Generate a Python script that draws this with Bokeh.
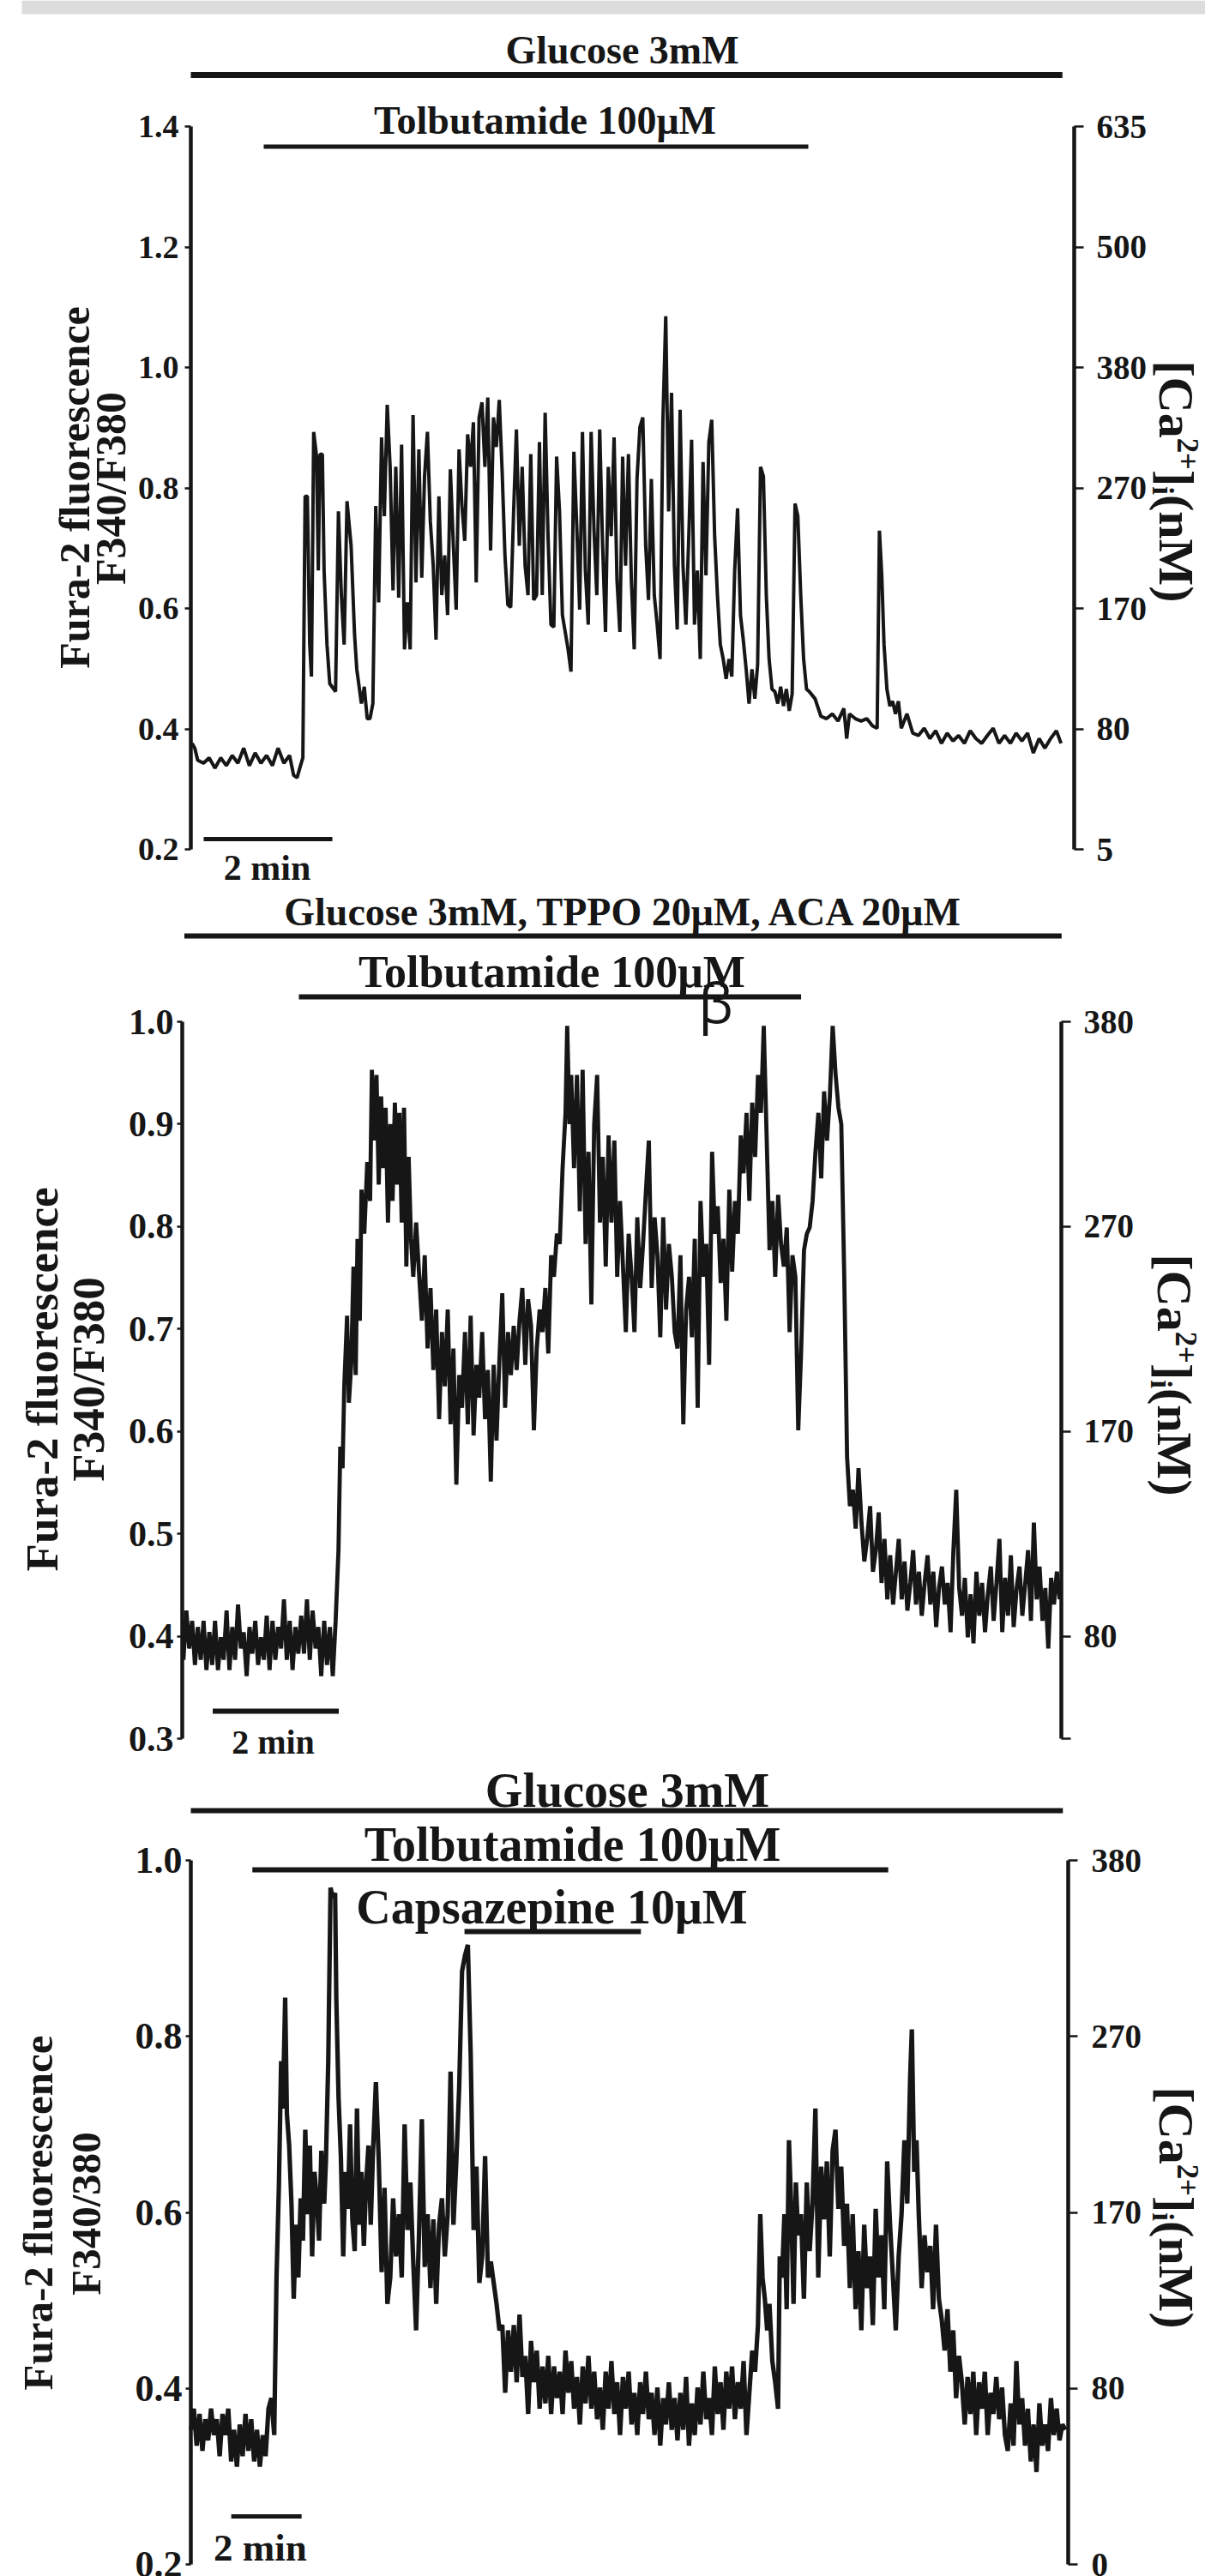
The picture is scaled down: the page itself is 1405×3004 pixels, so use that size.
import math
from bokeh.plotting import figure
from bokeh.models import (Range1d, LinearAxis, FixedTicker, PrintfTickFormatter,
                          Label, ColumnDataSource)
from bokeh.layouts import column
from bokeh.embed import file_html
from bokeh.resources import INLINE

# ------------------------------------------------------------------ data
# Panel 1 : Glucose 3mM, Tolbutamide 100uM  (time in s, Fura-2 F340/F380 ratio)
time_s_1 = [
    1.1, 3.7, 6.4, 11.8, 17.1, 22.5, 27.9, 33.2, 38.6, 43.9,
    49.3, 54.6, 60.0, 65.4, 70.7, 76.1, 81.4, 86.8, 92.1, 95.9,
    99.1, 102.3, 104.5, 106.6, 108.7, 110.9, 112.5, 114.6, 117.3, 118.9,
    120.5, 122.7, 124.3, 127.0, 129.6, 135.0, 137.7, 140.4, 143.0, 145.7,
    149.5, 152.7, 154.8, 159.1, 161.8, 164.5, 167.1, 169.8, 172.5, 175.2,
    177.9, 180.5, 183.2, 185.9, 188.6, 191.2, 193.9, 196.6, 199.3, 202.0,
    204.6, 207.3, 210.0, 212.7, 215.4, 218.0, 220.7, 223.4, 226.1, 228.7,
    231.4, 234.1, 236.8, 239.5, 242.1, 244.8, 247.5, 250.2, 252.9, 255.5,
    258.2, 260.9, 263.6, 266.2, 268.9, 271.6, 274.3, 277.0, 279.6, 282.3,
    285.0, 287.7, 290.4, 293.0, 295.7, 298.4, 301.1, 303.7, 306.4, 309.1,
    311.8, 314.5, 317.1, 319.8, 322.5, 325.2, 327.8, 330.5, 333.2, 335.9,
    338.6, 341.2, 343.9, 346.6, 351.9, 354.6, 357.3, 360.0, 362.7, 365.3,
    368.0, 370.7, 373.4, 376.1, 378.7, 381.4, 384.1, 386.8, 389.4, 392.1,
    394.8, 397.5, 400.2, 402.8, 405.5, 408.2, 410.9, 413.6, 416.2, 418.9,
    421.6, 424.3, 426.9, 429.6, 432.3, 435.0, 437.7, 440.3, 443.0, 445.7,
    448.4, 451.1, 453.7, 456.4, 459.1, 461.8, 464.5, 467.1, 469.8, 472.5,
    475.2, 477.8, 480.5, 483.2, 485.9, 488.6, 491.2, 493.9, 496.6, 499.3,
    502.0, 504.6, 507.3, 510.0, 512.7, 515.3, 518.0, 520.7, 523.4, 526.1,
    528.7, 531.4, 534.1, 536.8, 539.4, 542.1, 544.8, 547.5, 550.2, 552.8,
    555.5, 558.2, 560.9, 563.6, 566.2, 568.9, 571.6, 574.3, 576.9, 582.3,
    587.7, 593.0, 598.4, 603.7, 609.1, 611.8, 614.4, 619.8, 625.2, 630.5,
    635.9, 640.2, 642.3, 644.5, 646.6, 649.3, 652.0, 654.6, 657.3, 660.0,
    662.7, 668.0, 673.4, 678.7, 684.1, 689.4, 694.8, 700.2, 705.5, 710.9,
    716.2, 721.6, 727.0, 732.3, 737.7, 743.0, 748.4, 753.8, 759.1, 764.5,
    769.8, 775.2, 780.5, 785.9, 791.3, 796.6, 802.0, 807.4, 811.7]
ratio_1 = [
    0.376, 0.368, 0.348, 0.343, 0.352, 0.335, 0.352, 0.339, 0.356, 0.343,
    0.368, 0.339, 0.360, 0.343, 0.356, 0.339, 0.368, 0.343, 0.356, 0.323,
    0.319, 0.339, 0.352, 0.786, 0.786, 0.540, 0.487, 0.893, 0.852, 0.663,
    0.856, 0.856, 0.663, 0.540, 0.475, 0.462, 0.761, 0.622, 0.540, 0.778,
    0.704, 0.557, 0.499, 0.442, 0.470, 0.417, 0.417, 0.442, 0.770, 0.610,
    0.884, 0.753, 0.938, 0.835, 0.630, 0.835, 0.618, 0.872, 0.532, 0.610,
    0.532, 0.921, 0.643, 0.864, 0.651, 0.819, 0.893, 0.745, 0.671, 0.548,
    0.786, 0.622, 0.688, 0.589, 0.831, 0.708, 0.598, 0.864, 0.770, 0.712,
    0.889, 0.835, 0.909, 0.643, 0.917, 0.942, 0.835, 0.950, 0.696, 0.917,
    0.868, 0.946, 0.827, 0.688, 0.606, 0.602, 0.761, 0.897, 0.704, 0.835,
    0.671, 0.622, 0.856, 0.614, 0.622, 0.876, 0.622, 0.925, 0.720, 0.573,
    0.569, 0.852, 0.761, 0.589, 0.532, 0.495, 0.860, 0.737, 0.598, 0.893,
    0.663, 0.573, 0.893, 0.729, 0.622, 0.897, 0.704, 0.561, 0.835, 0.720,
    0.884, 0.647, 0.561, 0.852, 0.671, 0.856, 0.647, 0.532, 0.815, 0.901,
    0.917, 0.704, 0.614, 0.815, 0.622, 0.573, 0.516, 0.909, 1.085, 0.761,
    0.958, 0.671, 0.565, 0.930, 0.671, 0.573, 0.720, 0.880, 0.573, 0.663,
    0.516, 0.843, 0.655, 0.876, 0.913, 0.720, 0.622, 0.540, 0.516, 0.483,
    0.516, 0.487, 0.663, 0.766, 0.589, 0.548, 0.499, 0.442, 0.499, 0.450,
    0.507, 0.835, 0.819, 0.622, 0.516, 0.466, 0.462, 0.442, 0.470, 0.438,
    0.466, 0.430, 0.458, 0.774, 0.753, 0.622, 0.516, 0.466, 0.462, 0.450,
    0.421, 0.417, 0.425, 0.413, 0.434, 0.384, 0.425, 0.417, 0.413, 0.417,
    0.405, 0.401, 0.729, 0.655, 0.540, 0.466, 0.438, 0.446, 0.425, 0.446,
    0.401, 0.425, 0.393, 0.389, 0.401, 0.384, 0.397, 0.376, 0.393, 0.380,
    0.389, 0.376, 0.397, 0.384, 0.376, 0.389, 0.401, 0.376, 0.389, 0.376,
    0.393, 0.380, 0.393, 0.360, 0.384, 0.368, 0.384, 0.397, 0.376]

# Panel 2 : Glucose 3mM + TPPO 20uM + ACA 20uM, Tolbutamide 100uM
time_s_2 = [
    1.1, 3.9, 6.6, 9.4, 12.1, 14.8, 17.6, 20.3, 23.0, 25.8,
    28.5, 31.2, 34.0, 36.7, 39.4, 42.2, 44.9, 47.6, 50.3, 53.1,
    55.8, 58.5, 61.3, 64.0, 66.7, 69.5, 72.2, 74.9, 77.7, 80.4,
    83.1, 85.9, 88.6, 91.3, 94.1, 96.8, 99.5, 102.3, 105.0, 107.7,
    110.5, 113.2, 115.9, 118.7, 121.4, 124.1, 126.9, 129.6, 132.3, 135.1,
    137.8, 140.5, 143.3, 146.0, 148.7, 150.4, 152.6, 154.2, 156.9, 158.6,
    160.8, 163.0, 165.1, 166.8, 169.0, 170.6, 173.3, 176.1, 178.8, 180.5,
    182.7, 184.9, 187.0, 189.3, 191.4, 193.6, 195.8, 198.0, 200.2, 202.4,
    204.6, 206.7, 208.9, 211.1, 213.3, 215.5, 217.7, 219.9, 222.6, 225.3,
    228.1, 230.8, 233.5, 236.3, 239.0, 241.7, 244.5, 247.2, 249.9, 252.7,
    255.4, 258.1, 260.9, 263.6, 266.3, 269.1, 271.8, 274.5, 277.3, 280.0,
    282.7, 285.5, 288.2, 290.9, 293.7, 296.4, 299.1, 301.9, 304.6, 307.3,
    310.1, 312.8, 315.5, 318.3, 321.0, 323.7, 326.5, 329.2, 332.0, 334.7,
    337.4, 340.2, 342.9, 345.6, 348.4, 351.1, 353.8, 356.6, 359.3, 362.0,
    364.8, 366.4, 368.6, 370.2, 372.9, 375.7, 378.4, 381.1, 383.9, 386.7,
    389.4, 392.1, 394.9, 397.6, 400.3, 403.1, 405.8, 408.5, 411.3, 414.0,
    416.7, 419.5, 422.2, 424.9, 427.7, 430.4, 433.1, 435.9, 438.6, 441.4,
    444.1, 446.8, 449.6, 452.3, 455.0, 457.8, 460.5, 463.2, 466.0, 468.7,
    471.4, 474.2, 476.9, 479.6, 482.4, 485.1, 487.8, 490.6, 493.3, 496.1,
    498.8, 501.5, 504.3, 507.0, 509.7, 512.5, 515.2, 517.9, 520.7, 523.4,
    526.1, 528.9, 531.6, 534.3, 537.1, 539.8, 542.5, 545.3, 548.0, 550.8,
    553.5, 556.2, 559.0, 561.7, 564.4, 567.2, 569.9, 572.6, 575.4, 578.1,
    580.8, 583.6, 586.3, 589.0, 591.8, 594.5, 597.2, 600.0, 602.7, 605.5,
    608.2, 610.9, 613.7, 616.4, 619.1, 621.9, 624.6, 627.3, 630.1, 632.8,
    635.5, 638.3, 641.0, 643.7, 646.5, 649.2, 651.9, 654.7, 657.4, 660.2,
    662.9, 665.6, 668.4, 671.1, 673.8, 676.6, 679.3, 682.0, 684.8, 687.5,
    690.2, 693.0, 695.7, 698.4, 701.2, 703.9, 706.6, 709.4, 712.1, 714.9,
    717.6, 720.3, 723.1, 725.8, 728.5, 731.3, 734.0, 736.7, 739.5, 742.2,
    744.9, 747.7, 750.4, 753.1, 755.9, 758.6, 761.3, 764.1, 766.8, 769.6,
    772.3, 775.0, 777.8, 780.5, 783.2, 786.0, 788.7, 791.4, 794.2, 796.9,
    799.6, 802.4, 805.1, 807.8, 810.6, 813.3, 816.0, 818.8, 821.5, 824.3,
    827.0, 829.7, 832.5, 835.2]
ratio_2 = [
    0.377, 0.425, 0.388, 0.415, 0.372, 0.409, 0.377, 0.415, 0.367, 0.404,
    0.372, 0.415, 0.367, 0.399, 0.377, 0.425, 0.367, 0.409, 0.377, 0.431,
    0.388, 0.404, 0.361, 0.409, 0.383, 0.415, 0.372, 0.399, 0.377, 0.420,
    0.367, 0.415, 0.377, 0.409, 0.388, 0.436, 0.377, 0.415, 0.367, 0.409,
    0.383, 0.420, 0.383, 0.436, 0.377, 0.425, 0.388, 0.409, 0.361, 0.415,
    0.372, 0.409, 0.361, 0.415, 0.484, 0.585, 0.564, 0.644, 0.713, 0.628,
    0.665, 0.761, 0.655, 0.788, 0.708, 0.836, 0.793, 0.863, 0.825, 0.953,
    0.884, 0.948, 0.841, 0.927, 0.857, 0.916, 0.804, 0.900, 0.825, 0.921,
    0.841, 0.911, 0.804, 0.916, 0.761, 0.868, 0.788, 0.751, 0.804, 0.756,
    0.708, 0.772, 0.681, 0.740, 0.660, 0.719, 0.612, 0.697, 0.644, 0.719,
    0.607, 0.681, 0.548, 0.655, 0.623, 0.697, 0.607, 0.713, 0.596, 0.665,
    0.633, 0.697, 0.612, 0.660, 0.551, 0.665, 0.591, 0.671, 0.735, 0.623,
    0.697, 0.655, 0.703, 0.660, 0.708, 0.740, 0.665, 0.729, 0.703, 0.601,
    0.681, 0.719, 0.697, 0.740, 0.676, 0.772, 0.751, 0.793, 0.783, 0.857,
    0.911, 0.996, 0.900, 0.948, 0.857, 0.948, 0.815, 0.953, 0.783, 0.873,
    0.724, 0.900, 0.948, 0.804, 0.868, 0.761, 0.889, 0.804, 0.884, 0.751,
    0.825, 0.761, 0.697, 0.793, 0.751, 0.697, 0.809, 0.740, 0.783, 0.836,
    0.884, 0.740, 0.809, 0.772, 0.692, 0.809, 0.719, 0.783, 0.751, 0.697,
    0.681, 0.772, 0.607, 0.719, 0.751, 0.692, 0.788, 0.623, 0.825, 0.751,
    0.783, 0.665, 0.873, 0.793, 0.820, 0.745, 0.788, 0.708, 0.836, 0.756,
    0.825, 0.793, 0.889, 0.852, 0.911, 0.825, 0.921, 0.868, 0.948, 0.911,
    0.996, 0.889, 0.777, 0.825, 0.751, 0.831, 0.783, 0.761, 0.799, 0.697,
    0.772, 0.751, 0.601, 0.676, 0.777, 0.793, 0.799, 0.825, 0.873, 0.911,
    0.847, 0.932, 0.884, 0.927, 0.996, 0.948, 0.916, 0.900, 0.751, 0.575,
    0.527, 0.543, 0.505, 0.564, 0.511, 0.473, 0.495, 0.527, 0.463, 0.484,
    0.521, 0.452, 0.495, 0.436, 0.479, 0.431, 0.463, 0.495, 0.436, 0.473,
    0.425, 0.452, 0.484, 0.431, 0.463, 0.420, 0.452, 0.479, 0.431, 0.463,
    0.409, 0.447, 0.468, 0.431, 0.452, 0.404, 0.484, 0.543, 0.447, 0.420,
    0.457, 0.399, 0.441, 0.393, 0.463, 0.420, 0.452, 0.404, 0.441, 0.468,
    0.415, 0.452, 0.495, 0.404, 0.457, 0.420, 0.479, 0.409, 0.447, 0.468,
    0.420, 0.452, 0.484, 0.415, 0.511, 0.436, 0.468, 0.415, 0.447, 0.388,
    0.457, 0.431, 0.463, 0.436]

# Panel 3 : Glucose 3mM, Tolbutamide 100uM, Capsazepine 10uM
time_s_3 = [
    0.2, 5.1, 10.0, 14.9, 19.8, 24.7, 29.6, 34.5, 39.4, 44.3,
    49.2, 54.1, 59.0, 63.9, 68.8, 73.7, 78.6, 83.5, 88.4, 93.3,
    98.2, 103.1, 108.0, 112.9, 117.8, 122.7, 127.6, 132.5, 137.4, 142.3,
    146.2, 150.2, 154.1, 157.0, 161.0, 163.9, 167.8, 171.7, 175.6, 179.6,
    183.5, 187.4, 191.3, 195.3, 199.2, 203.1, 207.0, 211.0, 214.9, 218.8,
    222.7, 227.6, 230.5, 234.5, 238.4, 242.3, 246.2, 248.2, 252.1, 256.0,
    260.0, 263.9, 267.8, 271.7, 275.6, 279.6, 283.5, 287.4, 291.3, 295.2,
    299.2, 303.1, 307.0, 310.9, 315.8, 320.7, 325.6, 330.5, 335.4, 340.3,
    345.2, 350.1, 355.0, 359.9, 364.8, 369.7, 374.6, 379.5, 384.4, 389.3,
    394.2, 399.1, 404.0, 408.9, 413.8, 418.7, 423.6, 428.5, 433.4, 438.3,
    443.2, 448.1, 453.0, 457.9, 462.8, 467.8, 472.7, 477.6, 482.5, 487.4,
    492.3, 497.2, 502.1, 507.0, 511.9, 516.8, 521.7, 526.6, 531.5, 536.4,
    541.3, 546.2, 551.1, 556.0, 560.9, 565.8, 570.7, 575.6, 580.5, 585.4,
    590.3, 595.2, 600.1, 605.0, 609.9, 614.8, 619.7, 624.6, 629.5, 634.4,
    639.3, 644.2, 649.1, 654.0, 658.9, 663.8, 668.7, 673.6, 678.5, 683.4,
    688.3, 693.2, 698.1, 703.0, 707.9, 712.8, 717.7, 722.6, 727.5, 732.4,
    737.3, 742.2, 747.1, 752.0, 756.9, 761.8, 766.7, 771.6, 776.5, 781.4,
    786.3, 791.2, 796.1, 801.0, 805.9, 810.8, 815.7, 820.6, 825.5, 830.4,
    835.3, 840.2, 845.1, 850.0, 854.9, 859.8, 864.7, 869.6, 874.5, 879.4,
    884.3, 889.2, 894.1, 899.0, 903.9, 908.8, 913.7, 918.6, 923.5, 928.4,
    933.4, 938.3, 943.2, 948.1, 953.0, 957.9, 962.8, 967.7, 971.6, 975.5,
    979.4, 983.4, 987.3, 992.2, 997.1, 1002.0, 1004.9, 1008.8, 1012.8, 1016.7,
    1020.6, 1024.5, 1028.4, 1032.4, 1036.3, 1041.2, 1046.1, 1051.0, 1055.9, 1060.8,
    1065.7, 1070.6, 1075.5, 1080.4, 1085.3, 1090.2, 1095.1, 1100.0, 1104.9, 1109.8,
    1114.7, 1119.6, 1124.5, 1129.4, 1134.3, 1139.2, 1144.1, 1149.0, 1153.9, 1158.8,
    1163.7, 1168.6, 1173.5, 1178.4, 1183.3, 1188.2, 1193.1, 1198.0, 1202.9, 1207.8,
    1212.7, 1217.6, 1222.5, 1227.4, 1230.3, 1234.3, 1238.2, 1242.1, 1247.0, 1251.9,
    1256.8, 1261.7, 1266.6, 1271.5, 1276.4, 1281.3, 1286.2, 1291.1, 1296.0, 1300.9,
    1305.8, 1310.7, 1315.6, 1320.5, 1325.4, 1330.3, 1335.2, 1340.1, 1345.0, 1349.9,
    1354.8, 1359.7, 1364.6, 1369.5, 1374.4, 1379.3, 1384.2, 1389.1, 1394.0, 1398.9,
    1403.8, 1408.7, 1413.6, 1418.5, 1423.4, 1428.3, 1433.2, 1438.1, 1443.0, 1447.9,
    1452.8, 1457.8, 1462.7, 1467.6, 1472.5, 1477.4, 1482.3, 1487.2, 1492.1]
ratio_3 = [
    0.353, 0.377, 0.335, 0.371, 0.329, 0.365, 0.341, 0.377, 0.347, 0.365,
    0.323, 0.371, 0.347, 0.377, 0.317, 0.353, 0.311, 0.359, 0.323, 0.371,
    0.329, 0.365, 0.317, 0.353, 0.311, 0.347, 0.323, 0.377, 0.389, 0.347,
    0.526, 0.628, 0.772, 0.718, 0.844, 0.712, 0.676, 0.610, 0.502, 0.586,
    0.526, 0.616, 0.568, 0.694, 0.598, 0.676, 0.550, 0.646, 0.616, 0.568,
    0.670, 0.610, 0.658, 0.772, 0.969, 0.957, 0.963, 0.844, 0.730, 0.664,
    0.550, 0.646, 0.604, 0.700, 0.592, 0.556, 0.718, 0.586, 0.646, 0.562,
    0.634, 0.676, 0.586, 0.670, 0.748, 0.658, 0.532, 0.628, 0.496, 0.526,
    0.616, 0.550, 0.598, 0.526, 0.700, 0.580, 0.634, 0.544, 0.466, 0.574,
    0.706, 0.538, 0.598, 0.514, 0.592, 0.496, 0.586, 0.616, 0.550, 0.598,
    0.760, 0.586, 0.658, 0.742, 0.874, 0.892, 0.904, 0.778, 0.580, 0.652,
    0.520, 0.550, 0.664, 0.526, 0.544, 0.520, 0.496, 0.466, 0.472, 0.395,
    0.466, 0.419, 0.472, 0.407, 0.484, 0.413, 0.437, 0.371, 0.454, 0.407,
    0.443, 0.377, 0.425, 0.383, 0.437, 0.371, 0.425, 0.389, 0.419, 0.371,
    0.443, 0.395, 0.431, 0.377, 0.413, 0.359, 0.425, 0.383, 0.437, 0.377,
    0.419, 0.365, 0.401, 0.353, 0.419, 0.377, 0.431, 0.371, 0.407, 0.347,
    0.413, 0.377, 0.419, 0.359, 0.395, 0.347, 0.407, 0.371, 0.419, 0.365,
    0.395, 0.347, 0.401, 0.335, 0.389, 0.359, 0.407, 0.353, 0.389, 0.341,
    0.395, 0.353, 0.413, 0.335, 0.383, 0.347, 0.401, 0.359, 0.419, 0.365,
    0.389, 0.347, 0.425, 0.371, 0.407, 0.353, 0.419, 0.377, 0.425, 0.365,
    0.407, 0.377, 0.431, 0.347, 0.395, 0.443, 0.419, 0.472, 0.598, 0.526,
    0.502, 0.466, 0.496, 0.431, 0.407, 0.377, 0.550, 0.526, 0.598, 0.490,
    0.682, 0.604, 0.496, 0.634, 0.574, 0.598, 0.502, 0.634, 0.556, 0.610,
    0.718, 0.526, 0.652, 0.592, 0.658, 0.550, 0.670, 0.694, 0.604, 0.652,
    0.562, 0.610, 0.514, 0.598, 0.490, 0.556, 0.466, 0.586, 0.514, 0.550,
    0.472, 0.604, 0.526, 0.574, 0.490, 0.658, 0.586, 0.526, 0.466, 0.550,
    0.598, 0.682, 0.610, 0.754, 0.808, 0.646, 0.682, 0.598, 0.514, 0.574,
    0.532, 0.562, 0.490, 0.586, 0.502, 0.478, 0.443, 0.490, 0.419, 0.466,
    0.389, 0.437, 0.407, 0.359, 0.413, 0.371, 0.419, 0.347, 0.407, 0.377,
    0.419, 0.347, 0.395, 0.371, 0.413, 0.365, 0.401, 0.347, 0.329, 0.383,
    0.335, 0.431, 0.359, 0.389, 0.335, 0.377, 0.317, 0.359, 0.305, 0.383,
    0.335, 0.359, 0.329, 0.389, 0.347, 0.377, 0.341, 0.359, 0.353]

assert len(time_s_1) == len(ratio_1)
assert len(time_s_2) == len(ratio_2)
assert len(time_s_3) == len(ratio_3)

# Axis ticks (ratio) and the matching [Ca2+]i labels (nM)
ratio_ticks_1 = [0.2, 0.4, 0.6, 0.8, 1.0, 1.2, 1.4]
ca_ticks_1 = [0.2, 0.4, 0.6, 0.8, 1.0, 1.2, 1.4]
ca_labels_1 = ["5", "80", "170", "270", "380", "500", "635"]
ratio_ticks_2 = [0.3, 0.4, 0.5, 0.6, 0.7, 0.8, 0.9, 1.0]
ca_ticks_2 = [0.3, 0.4, 0.6, 0.8, 1.0]
ca_labels_2 = ["", "80", "170", "270", "380"]
ratio_ticks_3 = [0.2, 0.4, 0.6, 0.8, 1.0]
ca_ticks_3 = [0.2, 0.4, 0.6, 0.8, 1.0]
ca_labels_3 = ["0", "80", "170", "270", "380"]

# Drug applications (start s, end s)
glucose_1 = (0, 813)
tolbutamide_1 = (68, 576)
glucose_2 = (2, 837)
tolbutamide_2 = (111, 589)
glucose_3 = (0, 1488)
tolbutamide_3 = (105, 1190)
capsazepine_3 = (467, 768)
scalebar_start_s = [12, 29, 69]
SCALEBAR_LEN_S = 120   # "2 min"

# ------------------------------------------------------------------ layout
FIG_W = 1405
INK = "#161616"
SERIF = "Liberation Serif"
BASELINE_FIX = 0.33   # label baseline correction (em)


class Lay:
    """maps pixel positions of the reference page to data coords (layout only)"""
    def __init__(self, top, bottom, fl, fr, vhi, yhi, vlo, ylo, pps):
        self.top, self.bottom, self.fl, self.fr = top, bottom, fl, fr
        self.vhi, self.yhi, self.vlo, self.ylo, self.pps = vhi, yhi, vlo, ylo, pps

    def y(self, py):
        return self.vlo + (self.ylo - py) * (self.vhi - self.vlo) / (self.ylo - self.yhi)

    def x(self, px):
        return (px - self.fl) / self.pps


def make_fig(L):
    p = figure(width=FIG_W, height=L.bottom - L.top,
               x_range=Range1d(L.x(0), L.x(FIG_W)),
               y_range=Range1d(L.y(L.bottom), L.y(L.top)),
               output_backend="svg", toolbar_location=None, x_axis_location=None,
               min_border_left=0, min_border_right=0,
               min_border_top=0, min_border_bottom=0,
               outline_line_color=None, background_fill_color="white",
               border_fill_color="white")
    p.grid.visible = False
    return p


def style_axis(ax, ticks, font_px, tick_out, standoff):
    ax.ticker = FixedTicker(ticks=ticks)
    ax.bounds = (min(ticks), max(ticks))
    ax.axis_label = None
    ax.axis_line_width = 4.5
    ax.axis_line_color = INK
    ax.major_tick_line_width = 2.5
    ax.major_tick_line_color = INK
    ax.major_tick_out = tick_out
    ax.major_tick_in = 0
    ax.minor_tick_line_color = None
    ax.major_label_text_font = SERIF
    ax.major_label_text_font_style = "bold"
    ax.major_label_text_font_size = f"{font_px}px"
    ax.major_label_text_color = INK
    ax.major_label_standoff = standoff


def add_axes(p, L, rticks, cticks, clabels, left, right):
    ax = p.yaxis[0]
    style_axis(ax, rticks, *left)
    ax.formatter = PrintfTickFormatter(format="%.1f")
    ax.fixed_location = L.x(L.fl)
    rax = LinearAxis(fixed_location=L.x(L.fr))
    style_axis(rax, cticks, *right)
    rax.major_label_overrides = {t: l for t, l in zip(cticks, clabels)}
    p.add_layout(rax, "right")


def text(p, L, px, py, s, size, style="bold", font=SERIF, align="center"):
    p.add_layout(Label(x=L.x(px), y=L.y(py - BASELINE_FIX * size), text=s,
                       text_font=font, text_font_size=f"{size:.1f}px",
                       text_font_style=style, text_color=INK, text_align=align,
                       text_baseline="alphabetic"))


def vtext(p, L, bx, py, s, size, up=True, align="center", style="bold"):
    """rotated text; bx = page x of the baseline, py = page y of anchor"""
    sign = 1.0 if up else -1.0
    p.add_layout(Label(x=L.x(bx - sign * BASELINE_FIX * size), y=L.y(py), text=s,
                       text_font=SERIF, text_font_size=f"{size:.1f}px",
                       text_font_style=style, text_color=INK, text_align=align,
                       text_baseline="alphabetic", angle=sign * math.pi / 2))


def bar(p, span, yv, w):
    p.segment(x0=[span[0]], y0=[yv], x1=[span[1]], y1=[yv],
              line_width=w, line_color=INK, line_cap="butt")


def trace(p, t, r, w):
    src = ColumnDataSource(dict(t=t, r=r))
    p.line("t", "r", source=src, line_width=w, line_color=INK)


def scalebar(p, L, start, py, w, text_px, text_py, size):
    bar(p, (start, start + SCALEBAR_LEN_S), L.y(py), w)
    text(p, L, text_px, text_py, "2 min", size)


def ylabel(p, L, lines, size):
    for s, bx, cy in lines:
        vtext(p, L, bx, cy, s, size, up=True)


CA_PARTS = [("[Ca", 1.0, 0.0, 1.555), ("2+", 0.6, 0.36, 1.070),
            ("]", 1.0, 0.0, 0.333), ("i", 0.6, -0.14, 0.278),
            ("(nM)", 1.0, 0.0, 2.166)]


def ca_label(p, L, base_px, start_py, F):
    pos = start_py
    for s, sc, rise, em in CA_PARTS:
        fs = F * sc
        vtext(p, L, base_px + rise * F, pos, s, fs, up=False, align="left")
        pos += em * fs


# ------------------------------------------------------------------ panel 1
L1 = Lay(0, 1035, 222, 1252, 1.4, 147, 0.2, 990, 1.25)
p1 = make_fig(L1)
p1.quad(left=[L1.x(25)], right=[L1.x(FIG_W)], bottom=[L1.y(16)], top=[L1.y(0)],
        fill_color="#dcdcdc", line_color=None)
add_axes(p1, L1, ratio_ticks_1, ca_ticks_1, ca_labels_1, (38, 7, 7), (39, 11, 15))
trace(p1, time_s_1, ratio_1, 4.0)
bar(p1, glucose_1, L1.y(87), 7)
bar(p1, tolbutamide_1, L1.y(170.5), 5)
text(p1, L1, 725, 73, "Glucose 3mM", 46)
text(p1, L1, 635, 155, "Tolbutamide 100μM", 46)
scalebar(p1, L1, scalebar_start_s[0], 978, 5, 311, 1025, 42)
ylabel(p1, L1, [("Fura-2 fluorescence", 103, 568), ("F340/F380", 145, 569)], 50)
ca_label(p1, L1, 1352, 420, 58)

# ------------------------------------------------------------------ panel 2
L2 = Lay(1035, 2054, 212, 1237, 1.0, 1191, 0.3, 2027, 1.225)
p2 = make_fig(L2)
add_axes(p2, L2, ratio_ticks_2, ca_ticks_2, ca_labels_2, (42, 6, 4), (39, 11, 15))
trace(p2, time_s_2, ratio_2, 4.8)
bar(p2, glucose_2, L2.y(1091), 6)
bar(p2, tolbutamide_2, L2.y(1162), 6)
text(p2, L2, 728, 1078, "Glucose 3mM, TPPO 20μM, ACA 20μM", 46)
text(p2, L2, 643, 1150, "Tolbutamide 100μM", 52)
text(p2, L2, 814, 1189, "β", 64, style="normal", font="Open Sans", align="left")
scalebar(p2, L2, scalebar_start_s[1], 1995, 6, 318, 2044, 40)
ylabel(p2, L2, [("Fura-2 fluorescence", 66, 1608), ("F340/F380", 120, 1608)], 53)
ca_label(p2, L2, 1350, 1462, 58)

# ------------------------------------------------------------------ panel 3
L3 = Lay(2054, 3004, 222, 1245, 1.0, 2169, 0.2, 2990, 41.0 / 60.0)
p3 = make_fig(L3)
add_axes(p3, L3, ratio_ticks_3, ca_ticks_3, ca_labels_3, (44, 6, 4), (39, 11, 16))
trace(p3, time_s_3, ratio_3, 5.2)
bar(p3, glucose_3, L3.y(2111), 6)
bar(p3, tolbutamide_3, L3.y(2180), 6)
bar(p3, capsazepine_3, L3.y(2252), 6)
text(p3, L3, 731, 2106, "Glucose 3mM", 56)
text(p3, L3, 667, 2169, "Tolbutamide 100μM", 56)
text(p3, L3, 643, 2242, "Capsazepine 10μM", 56)
scalebar(p3, L3, scalebar_start_s[2], 2934, 5, 303, 2985, 45)
ylabel(p3, L3, [("Fura-2 fluorescence", 60, 2580), ("F340/380", 116, 2581)], 49)
ca_label(p3, L3, 1352, 2433, 58)

layout = column(p1, p2, p3, spacing=0)
open("out.html", "w").write(file_html(layout, INLINE))
